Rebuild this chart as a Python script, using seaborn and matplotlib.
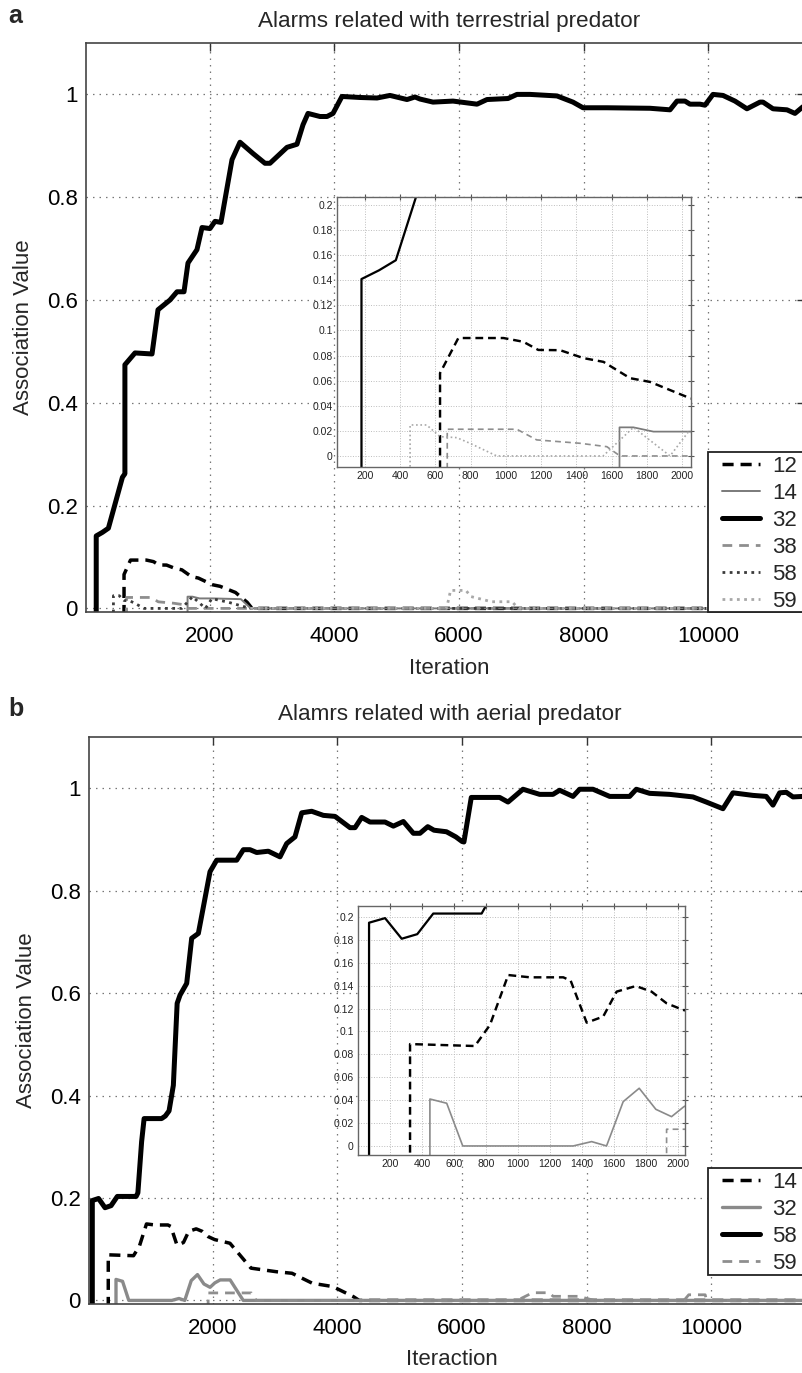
import matplotlib
matplotlib.use("Agg")
import matplotlib.pyplot as plt
import seaborn as sns
from matplotlib.lines import Line2D
from matplotlib.patches import Rectangle
from matplotlib.legend_handler import HandlerLine2D

# ---------------- data ----------------
title_a = "Alarms related with terrestrial predator"
title_b = "Alamrs related with aerial predator"
xlabel_a = "Iteration"
xlabel_b = "Iteraction"
ylabel = "Association Value"

main_xticks = [2000, 4000, 6000, 8000, 10000]
main_yticks = [0, 0.2, 0.4, 0.6, 0.8, 1]
inset_xticks = [200, 400, 600, 800, 1000, 1200, 1400, 1600, 1800, 2000]
inset_yticks = [0, 0.02, 0.04, 0.06, 0.08, 0.1, 0.12, 0.14, 0.16, 0.18, 0.2]

# panel a: terrestrial predator (labels 12, 14, 32, 38, 58, 59)
a12_x = [626, 626, 730, 986, 1099, 1184, 1308, 1440, 1554, 1705, 1819, 2046, 2166, 2414, 2600, 2680, 11550]
a12_y = [-0.05, 0.066, 0.094, 0.094, 0.091, 0.0845, 0.0843, 0.078, 0.075, 0.062, 0.059, 0.046, 0.043, 0.031, 0.012, 0.0, 0.0]

a14_x = [1645, 1645, 1724, 1838, 2050, 2500, 2660, 11550]
a14_y = [-0.05, 0.0228, 0.0228, 0.0194, 0.0194, 0.018, 0.0, 0.0]

a32_x = [180, 180, 280, 375, 600, 640, 640, 802, 1075, 1171, 1363, 1476, 1588, 1652, 1796, 1877,
         2005, 2085, 2181, 2358, 2486, 2695, 2887, 2967, 3240, 3400, 3497, 3577, 3769, 3882, 3978,
         4122, 4411, 4684, 4892, 5165, 5293, 5373, 5582, 5903, 6288, 6448, 6785, 6929, 7138, 7571,
         7827, 7988, 8373, 9063, 9384, 9496, 9624, 9704, 9865, 9945, 10073, 10233, 10426, 10618,
         10827, 10875, 11036, 11260, 11388, 11516]
a32_y = [-0.05, 0.141, 0.148, 0.156, 0.255, 0.262, 0.474, 0.497, 0.495, 0.581, 0.600, 0.616, 0.616,
         0.672, 0.698, 0.741, 0.739, 0.753, 0.751, 0.873, 0.907, 0.885, 0.866, 0.866, 0.897, 0.903,
         0.941, 0.963, 0.957, 0.957, 0.963, 0.996, 0.994, 0.993, 0.998, 0.990, 0.995, 0.991, 0.985,
         0.987, 0.981, 0.990, 0.992, 1.0, 1.0, 0.997, 0.985, 0.974, 0.974, 0.973, 0.970, 0.987,
         0.987, 0.981, 0.981, 0.979, 1.0, 0.998, 0.987, 0.972, 0.985, 0.985, 0.972, 0.970, 0.963,
         0.976]

a38_x = [667, 667, 683, 1062, 1175, 1421, 1573, 1648, 11550]
a38_y = [-0.05, 0.0213, 0.0213, 0.0213, 0.0128, 0.0101, 0.0074, 0.0, 0.0]

a58_x = [456, 456, 550, 626, 721, 796, 948, 1552, 1724, 1932, 2035, 2300, 2650, 11550]
a58_y = [-0.05, 0.0247, 0.0247, 0.0154, 0.0146, 0.0101, 0.0, 0.0, 0.0228, 0.0, 0.019, 0.012, 0.0, 0.0]

a59_x = [2650, 5800, 5864, 6110, 6191, 6520, 6850, 6950, 11550]
a59_y = [0.0, 0.0, 0.035, 0.035, 0.023, 0.013, 0.013, 0.0, 0.0]

# panel b: aerial predator (labels 14, 32, 58, 59)
b14_x = [325, 325, 730, 824, 938, 1074, 1282, 1328, 1428, 1531, 1615, 1735, 1833, 1927, 2031,
         2277, 2614, 3023, 3272, 3598, 3927, 4256, 4350, 11550]
b14_y = [-0.05, 0.089, 0.0873, 0.1057, 0.1493, 0.1473, 0.1473, 0.1444, 0.1077, 0.113, 0.1348,
         0.1397, 0.1348, 0.1246, 0.1188, 0.1116, 0.063, 0.056, 0.053, 0.0335, 0.027, 0.0074, 0.0, 0.0]

b32_x = [449, 449, 554, 654, 1344, 1459, 1552, 1656, 1756, 1860, 1958, 2035, 2120, 2280, 2490, 11550]
b32_y = [-0.05, 0.041, 0.0373, 0.0, 0.0, 0.0038, 0.0, 0.0387, 0.0504, 0.032, 0.0256, 0.0343, 0.04,
         0.04, 0.0, 0.0]

b58_x = [69, 69, 169, 273, 370, 470, 772, 800, 860, 900, 1180, 1240, 1300, 1369, 1430, 1476, 1583,
         1663, 1770, 1861, 1957, 2064, 2385, 2492, 2598, 2706, 2892, 3080, 3187, 3320, 3428, 3588,
         3775, 3962, 4203, 4283, 4390, 4523, 4764, 4898, 5058, 5219, 5325, 5450, 5550, 5750, 5900,
         6000, 6030, 6148, 6603, 6737, 6977, 7245, 7458, 7565, 7779, 7886, 8100, 8368, 8688, 8795,
         9009, 9330, 9704, 9918, 10185, 10345, 10666, 10880, 10987, 11094, 11201, 11308, 11468, 11550]
b58_y = [-0.05, 0.195, 0.199, 0.181, 0.185, 0.203, 0.203, 0.21, 0.31, 0.355, 0.355, 0.36, 0.37, 0.42,
         0.58, 0.596, 0.619, 0.707, 0.7165, 0.775, 0.837, 0.8595, 0.8595, 0.880, 0.880, 0.8745,
         0.877, 0.866, 0.892, 0.905, 0.952, 0.955, 0.947, 0.945, 0.923, 0.923, 0.943, 0.934, 0.934,
         0.926, 0.935, 0.912, 0.912, 0.925, 0.918, 0.915, 0.905, 0.896, 0.895, 0.982, 0.982, 0.973,
         0.998, 0.988, 0.988, 0.996, 0.984, 0.998, 0.998, 0.984, 0.984, 0.998, 0.990, 0.988, 0.983,
         0.973, 0.960, 0.991, 0.986, 0.984, 0.967, 0.991, 0.992, 0.983, 0.984, 0.984]

b59_x = [1927, 1927, 2620, 2700, 6884, 7131, 7400, 7460, 7870, 8120, 9560, 9636, 9900, 9922, 11550]
b59_y = [-0.05, 0.0146, 0.0146, 0.0, 0.0, 0.015, 0.015, 0.008, 0.008, 0.0, 0.0, 0.011, 0.011, 0.0, 0.0]

# ---------------- styles ----------------
THICK = dict(color="black", linewidth=3.6, linestyle="-")
DASH = dict(color="black", linewidth=2.5, linestyle=(0, (3.2, 2.0)))
THIN_GRAY = dict(color="#7a7a7a", linewidth=1.4, linestyle="-")
GRAY_DASH = dict(color="#8e8e8e", linewidth=2.0, linestyle=(0, (3.5, 2.5)))
DOT_DARK = dict(color="#3a3a3a", linewidth=2.0, linestyle=(0, (1, 1.6)))
DOT_LIGHT = dict(color="#a8a8a8", linewidth=2.0, linestyle=(0, (1, 1.6)))
GRAY_SOLID = dict(color="#8a8a8a", linewidth=2.4, linestyle="-")

W, H = 803, 1373
FS = 16
LEG_FS = 16

sns.set_theme(style="white")
plt.rcParams["font.family"] = ["Liberation Sans", "DejaVu Sans"]

fig = plt.figure(figsize=(W / 100, H / 100), dpi=100)


def rect(l, t, r, b):
    return [l / W, 1 - b / H, (r - l) / W, (b - t) / H]


def draw(ax, x, y, style, label=None, scale=1.0):
    st = dict(style)
    st["linewidth"] = st["linewidth"] * scale
    sns.lineplot(x=x, y=y, ax=ax, estimator=None, sort=False, legend=False,
                 label=label, **st)


class OffsetLine(HandlerLine2D):
    """Legend line handle that starts a little right of the handle box."""

    def __init__(self, shift, **kw):
        super().__init__(**kw)
        self.shift = shift

    def create_artists(self, legend, orig_handle, xdescent, ydescent, width,
                       height, fontsize, trans):
        s = self.shift * fontsize
        return super().create_artists(legend, orig_handle, xdescent - s, ydescent,
                                      width - s, height, fontsize, trans)


def style_main(ax, xlabel):
    ax.set_xlim(16, 11549)
    ax.set_ylim(-0.007, 1.1)
    ax.set_xticks(main_xticks)
    ax.set_xticklabels([str(v) for v in main_xticks])
    ax.set_yticks(main_yticks)
    ax.set_yticklabels([f"{v:g}" for v in main_yticks])
    ax.tick_params(direction="in", length=6, width=1, top=True, right=True,
                   labelsize=FS, colors="#333", labelcolor="black")
    ax.tick_params(axis="x", pad=10)
    ax.tick_params(axis="y", pad=6)
    ax.grid(True, linestyle=(0, (1.2, 4)), color="#777", linewidth=0.9)
    for sp in ax.spines.values():
        sp.set_color("#444")
        sp.set_linewidth(1.2)
    ax.set_xlabel(xlabel, fontsize=FS)
    ax.set_ylabel(ylabel, fontsize=FS)
    ax.xaxis.set_label_coords(0.505, -0.080)
    ax.yaxis.set_label_coords(-0.072, 0.5)


def style_inset(ax, xlim, ylim):
    ax.set_xlim(*xlim)
    ax.set_ylim(*ylim)
    ax.set_xticks(inset_xticks)
    ax.set_xticklabels([str(v) for v in inset_xticks])
    ax.set_yticks(inset_yticks)
    ax.set_yticklabels([f"{v:g}" for v in inset_yticks])
    ax.tick_params(direction="inout", length=4, width=0.8, top=True, right=True,
                   labelsize=7.5, pad=1, colors="#555", labelcolor="#222")
    ax.grid(True, linestyle=":", color="#bdbdbd", linewidth=0.7)
    ax.set_facecolor("white")
    for sp in ax.spines.values():
        sp.set_color("#666")
        sp.set_linewidth(1.0)
    ax.set_xlabel("")
    ax.set_ylabel("")


def add_legend(ax, top_px, bottom_px):
    # box of the legend; it runs past the right edge of the figure
    box = Rectangle((708 / W, 1 - bottom_px / H), (815 - 708) / W, (bottom_px - top_px) / H,
                    transform=fig.transFigure, facecolor="white", edgecolor="#222",
                    linewidth=1.3, zorder=4.9, clip_on=False)
    ax.add_artist(box)
    handles, labels = ax.get_legend_handles_labels()
    leg = ax.legend(handles, labels, loc="upper left",
                    bbox_to_anchor=(708 / W, 1 - top_px / H), bbox_transform=fig.transFigure,
                    borderaxespad=0, borderpad=0.17, handlelength=2.17, handletextpad=0.54,
                    labelspacing=0.27, fontsize=LEG_FS, frameon=False,
                    handler_map={Line2D: OffsetLine(0.46)})
    return leg


# ---------------- panel a ----------------
ax_a = fig.add_axes(rect(86, 43, 805, 612))
draw(ax_a, a12_x, a12_y, DASH, "12")
draw(ax_a, a14_x, a14_y, THIN_GRAY, "14")
draw(ax_a, a32_x, a32_y, THICK, "32")
draw(ax_a, a38_x, a38_y, GRAY_DASH, "38")
draw(ax_a, a58_x, a58_y, DOT_DARK, "58")
draw(ax_a, a59_x, a59_y, DOT_LIGHT, "59")
style_main(ax_a, xlabel_a)
add_legend(ax_a, 452, 612)

in_a = fig.add_axes(rect(337, 197, 691, 467))
draw(in_a, a32_x, a32_y, THICK, scale=0.45)
draw(in_a, a12_x, a12_y, DASH, scale=0.7)
draw(in_a, a14_x, a14_y, THIN_GRAY, scale=0.9)
draw(in_a, a38_x, a38_y, GRAY_DASH, scale=0.6)
draw(in_a, a58_x, a58_y, DOT_LIGHT, scale=0.6)
draw(in_a, a59_x, a59_y, DOT_LIGHT, scale=0.6)
style_inset(in_a, (41, 2051), (-0.0088, 0.2064))

# ---------------- panel b ----------------
ax_b = fig.add_axes(rect(89, 737, 808, 1304))
draw(ax_b, b14_x, b14_y, DASH, "14")
draw(ax_b, b32_x, b32_y, GRAY_SOLID, "32")
draw(ax_b, b58_x, b58_y, THICK, "58")
draw(ax_b, b59_x, b59_y, GRAY_DASH, "59")
style_main(ax_b, xlabel_b)
add_legend(ax_b, 1168, 1275)

in_b = fig.add_axes(rect(358, 906, 685, 1155))
draw(in_b, b58_x, b58_y, THICK, scale=0.45)
draw(in_b, b14_x, b14_y, DASH, scale=0.7)
draw(in_b, b32_x, b32_y, GRAY_SOLID, scale=0.5)
draw(in_b, b59_x, b59_y, GRAY_DASH, scale=0.6)
style_inset(in_b, (0, 2042), (-0.0079, 0.2096))

# ---------------- titles and panel letters ----------------
fig.text(449.5 / W, 1 - 27 / H, title_a, ha="center", va="baseline", fontsize=16.2)
fig.text(449.5 / W, 1 - 720 / H, title_b, ha="center", va="baseline", fontsize=16.2)
fig.text(8 / W, 1 - 23 / H, "a", ha="left", va="baseline", fontsize=18, fontweight="bold")
fig.text(8 / W, 1 - 716 / H, "b", ha="left", va="baseline", fontsize=18, fontweight="bold")

fig.savefig("out.png", dpi=100, facecolor="white")
